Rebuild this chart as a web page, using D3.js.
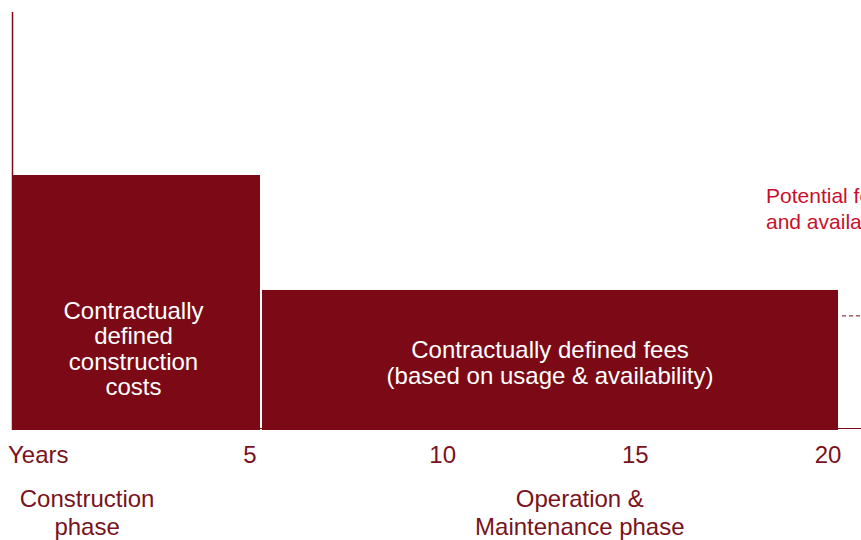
<!DOCTYPE html>
<html><head><meta charset="utf-8">
<script src="https://cdn.jsdelivr.net/npm/d3@7"></script>
<style>body{margin:0;background:#fff}svg{display:block;font-family:"Liberation Sans",Arial,sans-serif}</style>
</head><body><svg width="861" height="540"></svg>
<script>
const phases = ["construction", "operation"];
const phaseStart = [0, 5];
const phaseEnd = [5, 20];
const phaseValue = [6.1, 3.35];
const barLabels = [["Contractually", "defined", "construction", "costs"], ["Contractually defined fees", "(based on usage & availability)"]];
const tickYears = [5, 10, 15, 20];
const phaseNames = [["Construction", "phase"], ["Operation &", "Maintenance phase"]];
const phaseNameYear = [1.5, 13.3];
const potentialValue = 2.73;
const potentialText = ["Potential for additional usage", "and availability fees"];

const dark = "#7b0a16", textDark = "#7a1220", red = "#c8102e";
const svg = d3.select("svg");
const x = d3.scaleLinear().domain([0, 5, 20]).range([13, 260, 838]);
const y = d3.scaleLinear().domain([0, 10]).range([430, 12]);

svg.selectAll("rect.bar").data(phases).join("rect").attr("class", "bar")
  .attr("x", (d, i) => x(phaseStart[i]) + (i ? 2 : 0))
  .attr("width", (d, i) => x(phaseEnd[i]) - x(phaseStart[i]) - (i ? 2 : 0))
  .attr("y", (d, i) => y(phaseValue[i]))
  .attr("height", (d, i) => y(0) - y(phaseValue[i]))
  .attr("fill", dark);

// axes lines
svg.append("line").attr("x1", 12.5).attr("x2", 12.5).attr("y1", y(10)).attr("y2", y(0)).attr("stroke", dark).attr("stroke-width", 1.5);
svg.append("line").attr("x1", 13).attr("x2", 861).attr("y1", y(0) - 1.5).attr("y2", y(0) - 1.5).attr("stroke", dark).attr("stroke-width", 1);

// bar labels
barLabels.forEach((lines, i) => {
  const cx = (x(phaseStart[i]) + x(phaseEnd[i])) / 2 + (i ? 1 : -3);
  const midY = i === 0 ? 349 : 363;
  const lh = i === 0 ? 25.5 : 26;
  const t = svg.append("text").attr("text-anchor", "middle").attr("fill", "#fff").attr("font-size", 24);
  lines.forEach((l, k) => {
    t.append("tspan").attr("x", cx).attr("y", midY + (k - (lines.length - 1) / 2) * lh + 8).text(l);
  });
});

// tick labels
svg.append("text").attr("x", 8).attr("y", 463).attr("fill", textDark).attr("font-size", 24).text("Years");
svg.selectAll("text.tick").data(tickYears).join("text").attr("class", "tick")
  .attr("x", d => x(d) - 10).attr("y", 463).attr("text-anchor", "middle")
  .attr("fill", textDark).attr("font-size", 24).text(d => d);

// phase names
phaseNames.forEach((lines, i) => {
  const t = svg.append("text").attr("text-anchor", "middle").attr("fill", textDark).attr("font-size", 24);
  lines.forEach((l, k) => t.append("tspan").attr("x", x(phaseNameYear[i])).attr("y", 507 + k * 28).text(l));
});

// potential
svg.append("line").attr("x1", x(20) + 4).attr("x2", 861).attr("y1", y(potentialValue)).attr("y2", y(potentialValue))
  .attr("stroke", dark).attr("stroke-width", 1).attr("stroke-dasharray", "4,3");
const pt = svg.append("text").attr("fill", red).attr("font-size", 21);
potentialText.forEach((l, k) => pt.append("tspan").attr("x", 766).attr("y", 203 + k * 26).text(l));
</script></body></html>
